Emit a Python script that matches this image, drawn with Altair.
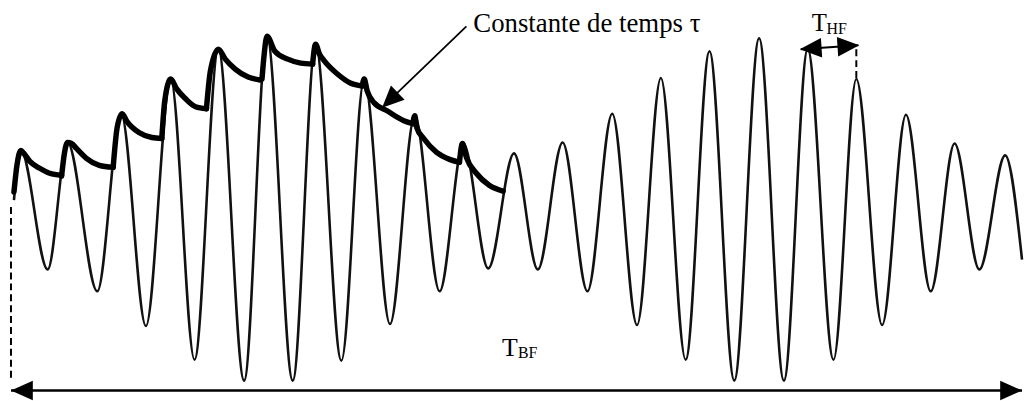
import altair as alt
import pandas as pd
import numpy as np

# ---- carrier signal: successive extrema (pixel coords) ----
sig_x = [14, 21, 48, 68, 98, 122, 147, 172, 196, 220, 246, 269, 295, 318, 344, 367,
         393, 418, 443, 467, 492, 518, 542, 567, 592, 617, 642, 666, 691, 715, 740,
         765, 790, 814, 840, 863, 889, 913, 938, 962, 987, 1013, 1030]
sig_y = [200, 150, 270, 142, 292, 113, 327, 78, 361, 48, 382, 35, 382, 43, 362, 78,
         325, 115, 292, 143, 269, 153, 270, 142, 292, 113, 326, 77, 361, 50, 382,
         37, 382, 48, 361, 78, 326, 114, 292, 143, 270, 155, 260]

# ---- envelope-detector segments (charge + RC discharge) ----
env_x = [
    [14, 17, 21, 24, 30, 40, 50, 62],
    [62, 65, 68, 72, 77, 87, 100, 114],
    [114, 118, 123, 128, 140, 153, 163],
    [163, 166, 172, 178, 187, 197, 208],
    [208, 212, 220, 227, 237, 250, 262],
    [264, 266, 269, 277, 290, 303, 315],
    [315, 318, 322, 327, 340, 353, 365],
    [365, 367, 370, 377, 390, 407, 416],
    [416, 418, 420, 427, 440, 453, 463],
    [463, 466, 470, 480, 493, 507],
]
env_y = [
    [192, 165, 150, 153, 161, 168, 173, 175],
    [176, 152, 142, 143, 148, 158, 165, 167],
    [167, 127, 113, 121, 132, 137, 138],
    [138, 100, 78, 88, 98, 106, 108],
    [108, 70, 48, 58, 68, 76, 79],
    [78, 55, 35, 50, 58, 62, 63],
    [63, 43, 53, 60, 73, 82, 85],
    [85, 78, 90, 102, 110, 120, 123],
    [123, 115, 127, 138, 152, 159, 162],
    [162, 143, 157, 173, 185, 191],
]

# ---- annotations ----
line_x1 = [11, 807, 470]
line_y1 = [392, 48, 25]
line_x2 = [1030, 865, 393]
line_y2 = [392, 44, 99]
line_w = [2.5, 2, 1.8]

dash_x1 = [11, 863]
dash_y1 = [207, 48]
dash_x2 = [11, 863]
dash_y2 = [383, 80]

head_tip_x = [11, 1030, 806, 866, 385]
head_tip_y = [392, 392, 48, 44, 107]
head_from_x = [1030, 11, 866, 806, 470]
head_from_y = [392, 392, 44, 48, 25]

txt = ["Constante de temps τ", "T", "BF", "T", "HF"]
txt_x = [477, 506, 522, 818, 833]
txt_y = [31, 357, 359, 30, 33]
txt_size = [27, 26, 16, 25, 16]

# ---- frames ----
sig_df = pd.DataFrame({"x": sig_x, "y": sig_y, "o": range(len(sig_x))})

rows = []
for i, (xs_, ys_) in enumerate(zip(env_x, env_y)):
    for j, (a, b) in enumerate(zip(xs_, ys_)):
        rows.append({"x": a, "y": b, "seg": i, "o": j})
env_df = pd.DataFrame(rows)

lines_df = pd.DataFrame({"x": line_x1, "y": line_y1, "x2": line_x2, "y2": line_y2, "w": line_w})
dash_df = pd.DataFrame({"x": dash_x1, "y": dash_y1, "x2": dash_x2, "y2": dash_y2})

tx = np.array(head_tip_x, float); ty = np.array(head_tip_y, float)
fx = np.array(head_from_x, float); fy = np.array(head_from_y, float)
dx, dy = tx - fx, ty - fy
n = np.hypot(dx, dy)
ux, uy = dx / n, dy / n
r = 11.0
heads_df = pd.DataFrame({
    "x": tx - r * ux,
    "y": ty - r * uy,
    "ang": np.degrees(np.arctan2(ux, -uy)) % 360,
})

text_df = pd.DataFrame({"t": txt, "x": txt_x, "y": txt_y, "s": txt_size})

W, H = 1024, 393
xsc = alt.Scale(domain=[8, 8 + W], nice=False, zero=False)
ysc = alt.Scale(domain=[8, 8 + H], nice=False, zero=False, reverse=True)
X = lambda f="x": alt.X(f + ":Q", scale=xsc, axis=None)
Y = lambda f="y": alt.Y(f + ":Q", scale=ysc, axis=None)

signal = alt.Chart(sig_df).mark_line(
    interpolate="monotone", color="#111", strokeWidth=2.6
).encode(x=X(), y=Y(), order="o:Q")

envelope = alt.Chart(env_df).mark_line(
    interpolate="monotone", color="black", strokeWidth=5.5, strokeCap="round", strokeJoin="round"
).encode(x=X(), y=Y(), detail="seg:N", order="o:Q")

rules = alt.Chart(lines_df).mark_rule(color="black").encode(
    x=X(), y=Y(), x2="x2:Q", y2="y2:Q", strokeWidth=alt.StrokeWidth("w:Q", scale=None)
)

dashes = alt.Chart(dash_df).mark_rule(color="black", strokeWidth=2, strokeDash=[7, 4]).encode(
    x=X(), y=Y(), x2="x2:Q", y2="y2:Q"
)

heads = alt.Chart(heads_df).mark_point(
    shape="M0,-1L-0.9,1L0.9,1Z", filled=True, color="black", opacity=1, size=484, strokeWidth=0
).encode(x=X(), y=Y(), angle=alt.Angle("ang:Q", scale=None))

texts = alt.Chart(text_df).mark_text(
    font="Liberation Serif", align="left", baseline="alphabetic", color="black"
).encode(x=X(), y=Y(), text="t:N", size=alt.Size("s:Q", scale=None))

chart = alt.layer(signal, envelope, rules, dashes, heads, texts).properties(
    width=W, height=H, padding=0,
    autosize=alt.AutoSizeParams(type="none"),
    background="white",
).configure_view(stroke=None)

chart.save("out.html", embed_options={"renderer": "svg", "actions": False})
